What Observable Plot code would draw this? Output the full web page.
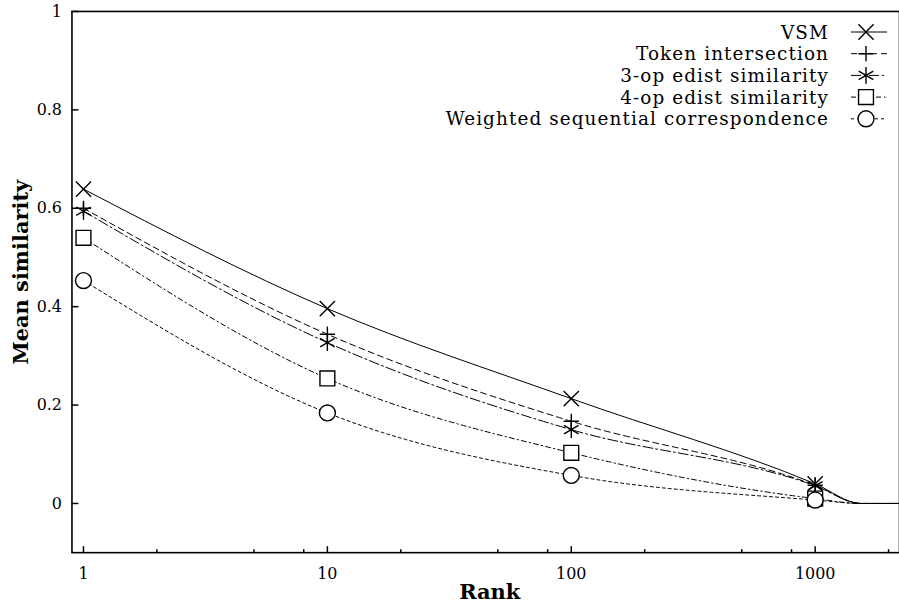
<!DOCTYPE html>
<html><head><meta charset="utf-8">
<script src="https://cdn.jsdelivr.net/npm/d3@7"></script>
<script src="https://cdn.jsdelivr.net/npm/@observablehq/plot@0.6"></script>
<style>
body{margin:0;background:#fff;}
#wrap{position:relative;width:899px;height:606px;overflow:hidden;background:#fff;font-family:'DejaVu Serif',serif;}
#wrap svg{position:absolute;left:0;top:0;}
#wrap svg text{font-family:'DejaVu Serif',serif;}
</style></head><body><div id="wrap"></div>
<script>
// ---- data ----
const ranks = [1, 10, 100, 1000, 1540, 2217];
const markerRanks = [1, 10, 100, 1000];
const seriesNames = ["VSM", "Token intersection", "3-op edist similarity", "4-op edist similarity", "Weighted sequential correspondence"];
const vsm   = [0.639, 0.396, 0.213, 0.040, 0, 0];
const token = [0.600, 0.344, 0.167, 0.037, 0, 0];
const op3   = [0.594, 0.327, 0.150, 0.036, 0, 0];
const op4   = [0.540, 0.254, 0.103, 0.010, 0, 0];
const wsc   = [0.453, 0.184, 0.057, 0.007, 0, 0];
const xTicks = [1, 10, 100, 1000];
const xMinorTicks = [2, 5, 8, 20, 50, 80, 200, 500, 800, 2000];
const yTicks = [0, 0.2, 0.4, 0.6, 0.8, 1];
const xLabel = "Rank";
const yLabel = "Mean similarity";

// ---- styles ----
const values = [vsm, token, op3, op4, wsc];
const symbols = ["times", "plus", "asterisk", "square", "circle"];
const d3symbols = [d3.symbolTimes, d3.symbolPlus, d3.symbolAsterisk, d3.symbolSquare, d3.symbolCircle];
const radii = [7, 5, 8, 8.4, 8];
const dashes = ["none", "6,4", "10,3,2,3", "5,3,1.5,3", "3,3"];
const FONT = "'DejaVu Serif', serif";

const rows = [];
seriesNames.forEach((s, k) => ranks.forEach((r, i) => rows.push({series: s, k, rank: r, value: values[k][i]})));

const W = 902, H = 606, mL = 71.7, mT = 11, mB = 52, mR = 0;
const frameW = W - mL - mR, frameH = H - mT - mB;

const marks = [];
seriesNames.forEach((s, k) => {
  marks.push(Plot.line(rows.filter(d => d.k === k), {
    x: "rank", y: "value", curve: "monotone-x", stroke: "black", strokeWidth: 1,
    strokeDasharray: dashes[k] === "none" ? null : dashes[k]
  }));
});
seriesNames.forEach((s, k) => {
  marks.push(Plot.dot(rows.filter(d => d.k === k && markerRanks.includes(d.rank)), {
    x: "rank", y: "value", symbol: () => symbols[k], r: radii[k],
    stroke: "black", strokeWidth: 1.4, fill: (k >= 3 ? "white" : "none")
  }));
});

const chart = Plot.plot({
  width: W, height: H,
  marginLeft: mL, marginTop: mT, marginBottom: mB, marginRight: mR,
  style: {fontFamily: FONT, fontSize: "16px", color: "black", background: "white"},
  x: {type: "log", domain: [0.897, 2217], axis: null},
  y: {domain: [-0.1, 1], axis: null},
  symbol: {type: "identity"},
  marks: [
    ...marks,
    Plot.ruleX(xTicks, {stroke: "black", strokeWidth: 1.5, insetTop: frameH - 6}),
    Plot.ruleX(xMinorTicks, {stroke: "black", strokeWidth: 1.5, insetTop: frameH - 3}),
    Plot.ruleY(yTicks, {stroke: "black", strokeWidth: 1.5, insetRight: frameW - 7}),
    Plot.axisX(xTicks, {tickSize: 0, tickPadding: 15, tickFormat: d => String(d), fontSize: 16, label: null}),
    Plot.axisY(yTicks, {tickSize: 0, tickPadding: 10, tickFormat: d => String(d), fontSize: 16, label: null}),
    Plot.frame({stroke: "black", strokeWidth: 1.6}),
    Plot.text([xLabel], {text: d => d, frameAnchor: "bottom", lineAnchor: "middle", textAnchor: "middle", dy: 40, dx: 4, fontWeight: "bold", fontSize: 21}),
    Plot.text([yLabel], {text: d => d, frameAnchor: "left", lineAnchor: "middle", textAnchor: "middle", rotate: -90, dx: -51, dy: -10, fontWeight: "bold", fontSize: 21})
  ]
});
const wrap = document.getElementById("wrap");
wrap.appendChild(chart);

// ---- legend overlay ----
const leg = d3.select(wrap).append("svg").attr("width", 899).attr("height", 606)
  .attr("font-family", FONT).attr("font-size", 18.4).style("letter-spacing", "1.1px");
seriesNames.forEach((s, k) => {
  const y = 32 + 21.7 * k;
  leg.append("text").attr("x", 829).attr("y", y).attr("dy", "0.36em")
    .attr("text-anchor", "end").attr("fill", "black").text(s);
  leg.append("line").attr("x1", 851).attr("x2", 887).attr("y1", y).attr("y2", y)
    .attr("stroke", "black").attr("stroke-width", 1)
    .attr("stroke-dasharray", dashes[k] === "none" ? null : dashes[k]);
  leg.append("path").attr("transform", `translate(866,${y})`)
    .attr("d", d3.symbol().type(d3symbols[k]).size(radii[k] * radii[k] * Math.PI)())
    .attr("stroke", "black").attr("stroke-width", 1.4).attr("fill", k >= 3 ? "white" : "none");
});
</script></body></html>
